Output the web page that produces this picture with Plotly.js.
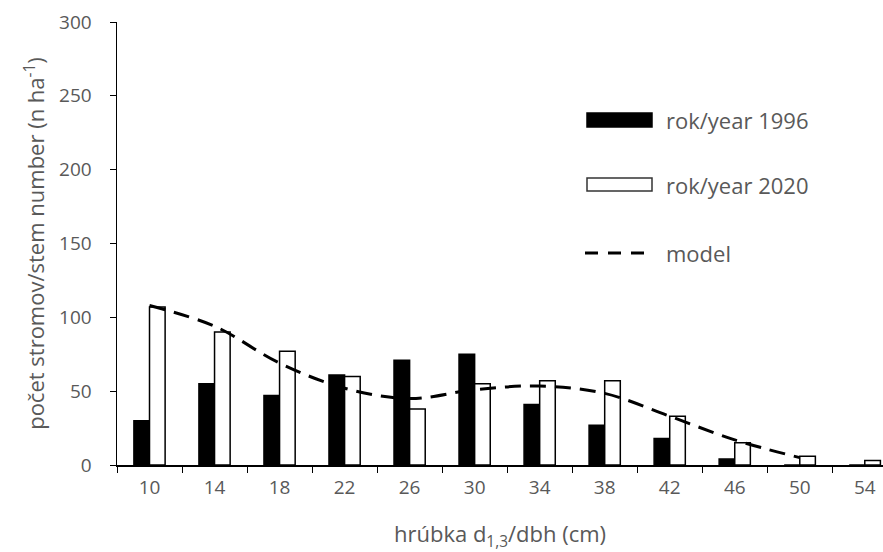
<!DOCTYPE html>
<html>
<head>
<meta charset="utf-8">
<script src="https://cdn.plot.ly/plotly-3.0.1.min.js"></script>
<style>html,body{margin:0;padding:0;background:#fff;}#chart{width:883px;height:552px;}</style>
</head>
<body>
<div id="chart"></div>
<script>
const categories = ["10","14","18","22","26","30","34","38","42","46","50","54"];
const year1996 = [30, 55, 47, 61, 71, 75, 41, 27, 18, 4, 0, 0];
const year2020 = [107, 90, 77, 60, 38, 55, 57, 57, 33, 15, 6, 3];
const modelCats = ["10","14","18","22","26","30","34","38","42","46","50"];
const modelVals = [108, 94, 69, 52, 45, 51, 53.5, 48.5, 33, 17, 5];
const legendLabels = ["rok/year 1996", "rok/year 2020", "model"];

const textColor = "#595959";
const fontFam = "'Open Sans', sans-serif";

const traces = [
  {type:"bar", x:categories, y:year1996, name:legendLabels[0],
   marker:{color:"#000", line:{color:"#000", width:1.5}}, showlegend:false},
  {type:"bar", x:categories, y:year2020, name:legendLabels[1],
   marker:{color:"#fff", line:{color:"#000", width:1.5}}, showlegend:false},
  {type:"scatter", mode:"lines", x:modelCats, y:modelVals, name:legendLabels[2],
   line:{color:"#000", width:3, dash:"16px,9px", shape:"spline", smoothing:1}, showlegend:false}
];

// manual legend (paper coords)
const W = 883, H = 552, L = 117, R = 0, T = 22, B = 87;
const pw = W - L - R, ph = H - T - B;
function px(x){ return (x - L) / pw; }
function py(y){ return (H - B - y) / ph; }

const shapes = [
  {type:"rect", xref:"paper", yref:"paper", x0:px(587), x1:px(652), y0:py(127), y1:py(113),
   fillcolor:"#000", line:{color:"#000", width:1.5}},
  {type:"rect", xref:"paper", yref:"paper", x0:px(587), x1:px(652), y0:py(191), y1:py(178),
   fillcolor:"#fff", line:{color:"#333", width:1.5}},
  {type:"line", xref:"paper", yref:"paper", x0:px(585), x1:px(645), y0:py(253), y1:py(253),
   line:{color:"#000", width:3, dash:"13px,10px"}}
];
const legY = [120, 185, 253];
const annotations = legendLabels.map((t,i)=>({
  xref:"paper", yref:"paper", x:px(664), y:py(legY[i]), xanchor:"left", yanchor:"middle",
  text:t, showarrow:false, font:{family:fontFam, size:22, color:textColor}
}));

const layout = {
  width:W, height:H,
  margin:{l:L, r:R, t:T, b:B, pad:0},
  paper_bgcolor:"#fff", plot_bgcolor:"#fff",
  barmode:"group", bargap:0.52, bargroupgap:0,
  font:{family:fontFam, color:textColor, size:19},
  showlegend:false,
  xaxis:{
    type:"category", range:[-0.5, 11.28], tickson:"boundaries",
    ticks:"outside", ticklen:6, tickcolor:"#000", tickwidth:1,
    showline:true, linecolor:"#000", linewidth:1.5, showgrid:false, zeroline:false,
    tickfont:{family:fontFam, size:19, color:textColor}, ticklabelstandoff:5,
    title:{text:"hrúbka d<sub>1,3</sub>/dbh (cm)", font:{family:fontFam, size:22, color:textColor}, standoff:28}
  },
  yaxis:{
    range:[0, 300], dtick:50, ticks:"outside", ticklen:6, tickcolor:"#000", tickwidth:1,
    showline:true, linecolor:"#000", linewidth:1.5, showgrid:false, zeroline:false,
    tickfont:{family:fontFam, size:19, color:textColor}, ticklabelstandoff:14,
    title:{text:"počet stromov/stem number (n ha<sup>-1</sup>)", font:{family:fontFam, size:22, color:textColor}, standoff:8}
  },
  shapes:shapes,
  annotations:annotations
};

Plotly.newPlot("chart", traces, layout, {displayModeBar:false, staticPlot:true});
</script>
</body>
</html>
